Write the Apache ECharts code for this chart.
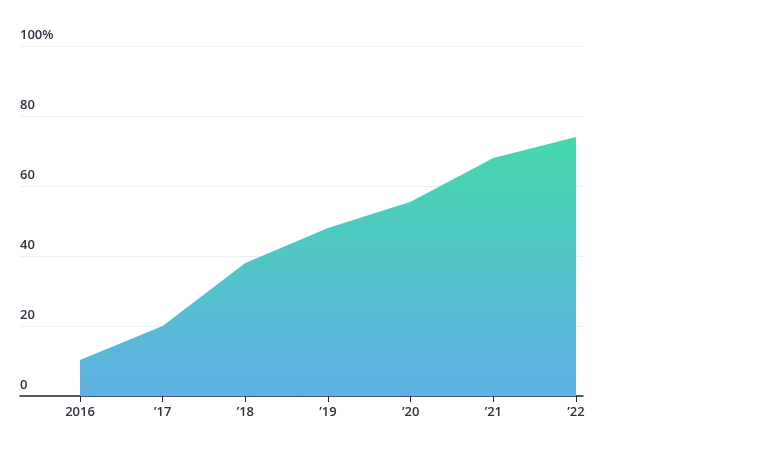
<!DOCTYPE html>
<html>
<head>
<meta charset="utf-8">
<script src="https://cdn.jsdelivr.net/npm/echarts@6/dist/echarts.min.js"></script>
<style>html,body{margin:0;background:#fff}#chart{width:770px;height:450px}</style>
</head>
<body>
<div id="chart"></div>
<script>
var years = ['2016', '\u201917', '\u201918', '\u201919', '\u201920', '\u201921', '\u201922'];
var values = [10.3, 20, 38, 48, 55.5, 68, 74];
var yTicks = [0, 20, 40, 60, 80, 100];

var chart = echarts.init(document.getElementById('chart'));
var labelFont = {color: '#2b3440', fontSize: 13, fontWeight: 600, fontFamily: 'Open Sans'};
chart.setOption({
    animation: false,
    grid: [
        {left: 20, right: 187, top: 46, bottom: 54},
        {left: 80, right: 194, top: 46, bottom: 54}
    ],
    xAxis: [
        {gridIndex: 0, type: 'value', min: 0, max: 1, show: true,
         axisLine: {lineStyle: {color: '#1c2633', width: 1.5}},
         axisTick: {show: false}, axisLabel: {show: false}, splitLine: {show: false}},
        {gridIndex: 1, type: 'category', data: years, boundaryGap: false,
         axisLine: {show: false},
         axisTick: {show: true, length: 6, lineStyle: {color: '#1c2633'}},
         axisLabel: Object.assign({margin: 10}, labelFont)}
    ],
    yAxis: [
        {gridIndex: 0, type: 'value', min: 0, max: 100, interval: 20,
         axisLine: {show: false}, axisTick: {show: false},
         splitLine: {lineStyle: {color: '#eeeeee'}},
         axisLabel: Object.assign({inside: true, verticalAlign: 'bottom', margin: 0, padding: [0, 0, 4, 0],
             formatter: function (v) { return yTicks.indexOf(v) < 0 ? '' : (v === 100 ? '100%' : v); }}, labelFont)},
        {gridIndex: 1, type: 'value', min: 0, max: 100, show: false}
    ],
    series: [{
        type: 'line', xAxisIndex: 1, yAxisIndex: 1, data: values,
        symbol: 'none', lineStyle: {width: 0},
        areaStyle: {opacity: 1, color: new echarts.graphic.LinearGradient(0, 0, 0, 1, [
            {offset: 0, color: '#45d8ab'}, {offset: 1, color: '#5fb0e4'}])}
    }]
});
</script>
</body>
</html>
